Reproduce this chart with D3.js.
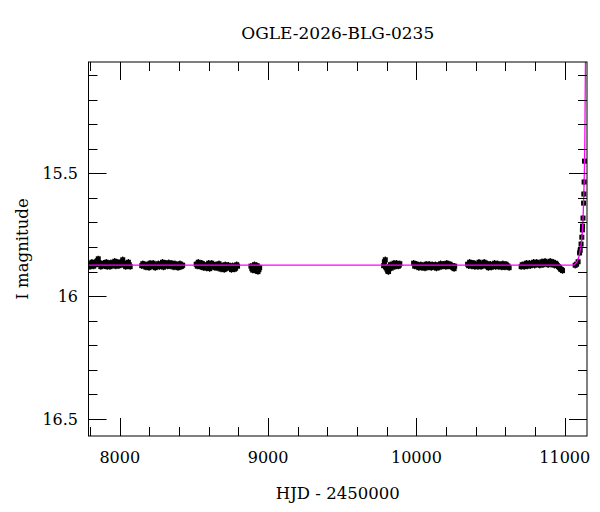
<!DOCTYPE html>
<html><head><meta charset="utf-8">
<script src="https://cdn.jsdelivr.net/npm/d3@7"></script>
<style>body{margin:0;background:#fff}svg{display:block}</style>
</head><body><svg id="c" width="600" height="512"></svg>
<script>
const title = "OGLE-2026-BLG-0235";
const xLabel = "HJD - 2450000";
const yLabel = "I magnitude";
const xTicksMajor = [8000, 9000, 10000, 11000];
const yTicksMajor = [15.5, 16, 16.5];
const yTickLabels = ["15.5", "16", "16.5"];

const hjd = [
  7792,7805,7818,7830,7842,7855,7866,7878,7890,7902,7915,7928,7940,7953,7966,7980,7994,8008,8020,8033,8046,8058,8070,
  7799,7812,7824,7836,7848,7860,7872,7884,7896,7909,7922,7934,7947,7960,7973,7987,8001,8014,8027,8040,8052,8064,
  8148,8162,8176,8190,8204,8218,8232,8246,8260,8274,8288,8302,8316,8330,8344,8358,8372,8386,8400,8412,8424,
  8155,8169,8183,8197,8211,8225,8239,8253,8267,8281,8295,8309,8323,8337,8351,8365,8379,8393,8406,8418,
  8515,8529,8543,8557,8571,8585,8599,8613,8627,8641,8655,8669,8683,8697,8711,8725,8739,8753,8767,8781,8794,
  8522,8536,8550,8564,8578,8592,8606,8620,8634,8648,8662,8676,8690,8704,8718,8732,8746,8760,8774,8788,
  8884,8896,8908,8920,8932,8943,
  8890,8902,8914,8926,8938,
  9779,9790,9801,9812,9824,9836,9848,9860,9872,9884,
  9784,9795,9806,9818,9830,9842,9854,9866,9878,9888,
  9981,9995,10009,10023,10037,10051,10065,10079,10093,10107,10121,10135,10149,10163,10177,10191,10205,10219,10233,10247,10258,
  9988,10002,10016,10030,10044,10058,10072,10086,10100,10114,10128,10142,10156,10170,10184,10198,10212,10226,10240,10254,
  10345,10359,10373,10387,10401,10415,10429,10443,10457,10471,10485,10499,10513,10527,10541,10555,10569,10583,10597,10611,10625,
  10352,10366,10380,10394,10408,10422,10436,10450,10464,10478,10492,10506,10520,10534,10548,10562,10576,10590,10604,10618,
  10706,10720,10734,10748,10762,10776,10790,10804,10818,10832,10846,10860,10874,10888,10902,10916,10930,10944,10958,10972,10985,
  10713,10727,10741,10755,10769,10783,10797,10811,10825,10839,10853,10867,10881,10895,10909,10923,10937,10951,10965,10979,
  11070,11080,11090,11100,11104,11110,11115,11119,11120,11123,11127,11128.5,11130.5,11133
];
const imag = [
  15.872,15.868,15.874,15.866,15.860,15.848,15.870,15.876,15.866,15.872,15.880,15.868,15.864,15.874,15.858,15.866,15.876,15.870,15.852,15.868,15.874,15.862,15.880,
  15.880,15.862,15.878,15.872,15.856,15.864,15.880,15.870,15.876,15.862,15.874,15.880,15.866,15.870,15.878,15.862,15.868,15.860,15.874,15.880,15.866,15.872,
  15.876,15.870,15.882,15.874,15.866,15.878,15.872,15.880,15.868,15.874,15.862,15.876,15.870,15.864,15.878,15.872,15.868,15.876,15.872,15.880,15.874,
  15.868,15.878,15.872,15.884,15.876,15.866,15.884,15.874,15.880,15.870,15.882,15.866,15.878,15.874,15.866,15.882,15.876,15.884,15.868,15.878,
  15.870,15.862,15.880,15.868,15.874,15.886,15.866,15.878,15.872,15.884,15.876,15.868,15.890,15.880,15.872,15.886,15.878,15.892,15.880,15.886,15.878,
  15.878,15.872,15.866,15.884,15.878,15.872,15.888,15.866,15.880,15.872,15.886,15.878,15.876,15.892,15.884,15.874,15.882,15.876,15.890,15.872,
  15.878,15.894,15.872,15.888,15.900,15.884,
  15.888,15.880,15.896,15.876,15.892,
  15.876,15.852,15.890,15.900,15.872,15.880,15.866,15.876,15.870,15.874,
  15.860,15.884,15.898,15.880,15.886,15.872,15.880,15.866,15.878,15.868,
  15.866,15.872,15.880,15.876,15.884,15.878,15.870,15.882,15.876,15.872,15.880,15.886,15.874,15.868,15.878,15.872,15.866,15.874,15.880,15.884,15.878,
  15.878,15.870,15.884,15.872,15.876,15.886,15.878,15.870,15.884,15.878,15.872,15.880,15.882,15.876,15.870,15.880,15.878,15.870,15.876,15.888,
  15.870,15.862,15.878,15.866,15.872,15.880,15.868,15.874,15.862,15.876,15.884,15.870,15.878,15.866,15.874,15.880,15.872,15.868,15.882,15.876,15.884,
  15.876,15.870,15.866,15.880,15.874,15.862,15.880,15.870,15.876,15.868,15.876,15.882,15.872,15.880,15.868,15.876,15.882,15.874,15.870,15.878,
  15.880,15.874,15.870,15.878,15.866,15.872,15.862,15.870,15.866,15.874,15.860,15.868,15.864,15.872,15.858,15.866,15.874,15.870,15.880,15.890,15.896,
  15.872,15.880,15.866,15.872,15.876,15.868,15.874,15.862,15.870,15.866,15.872,15.858,15.868,15.864,15.870,15.862,15.866,15.876,15.884,15.892,
  15.874,15.870,15.860,15.824,15.813,15.788,15.760,15.730,15.715,15.682,15.621,15.584,15.535,15.450
];
const modelT = [7700, 11058, 11075, 11092, 11100, 11108, 11114, 11119, 11123, 11126, 11129, 11131, 11133.5, 11135.5, 11137.5, 11139.5, 11141];
const modelM = [15.874, 15.874, 15.866, 15.846, 15.826, 15.799, 15.770, 15.731, 15.690, 15.636, 15.577, 15.527, 15.450, 15.364, 15.200, 15.050, 14.90];

const W = 600, H = 512;
const m = {l: 88.5, r: 587, t: 62, b: 436};
const svg = d3.select("#c");
const x = d3.scaleLinear().domain([7789, 11150]).range([m.l, m.r]);
const y = d3.scaleLinear().domain([15.046, 16.57]).range([m.t, m.b]);
const font = "DejaVu Serif";

svg.append("defs").append("clipPath").attr("id","clip")
  .append("rect").attr("x", m.l).attr("y", m.t).attr("width", m.r - m.l).attr("height", m.b - m.t);

// data points
const pts = svg.append("g").attr("clip-path","url(#clip)");
hjd.forEach((t, i) => {
  const px = x(t), py = y(imag[i]);
  pts.append("line").attr("x1", px).attr("x2", px)
    .attr("y1", y(imag[i] - 0.013)).attr("y2", y(imag[i] + 0.013))
    .attr("stroke", "#000").attr("stroke-width", 1.2);
  pts.append("rect").attr("x", px - 2.5).attr("y", py - 2.5)
    .attr("width", 5).attr("height", 5).attr("fill", "#000");
});

// model line
const line = d3.line().x((d, i) => x(modelT[i])).y((d, i) => y(modelM[i])).curve(d3.curveMonotoneX);
svg.append("path").attr("clip-path","url(#clip)").datum(modelT).attr("d", line)
  .attr("fill","none").attr("stroke","#ff00ff").attr("stroke-width",1.3);

// axes frame
const ax = svg.append("g").attr("stroke","#000").attr("stroke-width",1);
ax.append("rect").attr("x", m.l).attr("y", m.t).attr("width", m.r - m.l).attr("height", m.b - m.t)
  .attr("fill","none");

const xMinor = d3.range(7800, 11151, 200);
const yMinor = d3.range(15.1, 16.571, 0.1).map(v => +v.toFixed(1));
const bigT = 18, smT = 9;
xMinor.forEach(v => {
  const isMaj = xTicksMajor.includes(v);
  const L = isMaj ? bigT : smT, px = Math.round(x(v)) + 0.5;
  ax.append("line").attr("x1", px).attr("x2", px).attr("y1", m.b).attr("y2", m.b - L);
  ax.append("line").attr("x1", px).attr("x2", px).attr("y1", m.t).attr("y2", m.t + L);
});
yMinor.forEach(v => {
  const isMaj = yTicksMajor.some(t => Math.abs(t - v) < 1e-6);
  const L = isMaj ? bigT : smT, py = Math.round(y(v)) + 0.5;
  ax.append("line").attr("x1", m.l).attr("x2", m.l + L).attr("y1", py).attr("y2", py);
  ax.append("line").attr("x1", m.r).attr("x2", m.r - L).attr("y1", py).attr("y2", py);
});

// tick labels
const tl = svg.append("g").attr("font-family", font).attr("font-size", 16).attr("fill","#000");
xTicksMajor.forEach(v => {
  tl.append("text").attr("x", x(v)).attr("y", 463).attr("text-anchor","middle").text(d3.format("d")(v));
});
yTicksMajor.forEach((v, i) => {
  tl.append("text").attr("x", 78).attr("y", y(v) + 6).attr("text-anchor","end").text(yTickLabels[i]);
});

svg.append("text").attr("x", (m.l + m.r) / 2).attr("y", 39).attr("text-anchor","middle")
  .attr("font-family", font).attr("font-size", 17).text(title);
svg.append("text").attr("x", (m.l + m.r) / 2).attr("y", 499).attr("text-anchor","middle")
  .attr("font-family", font).attr("font-size", 16.5).text(xLabel);
svg.append("text").attr("transform", `translate(28,${(m.t + m.b) / 2}) rotate(-90)`).attr("text-anchor","middle")
  .attr("font-family", font).attr("font-size", 16.5).text(yLabel);
</script></body></html>
